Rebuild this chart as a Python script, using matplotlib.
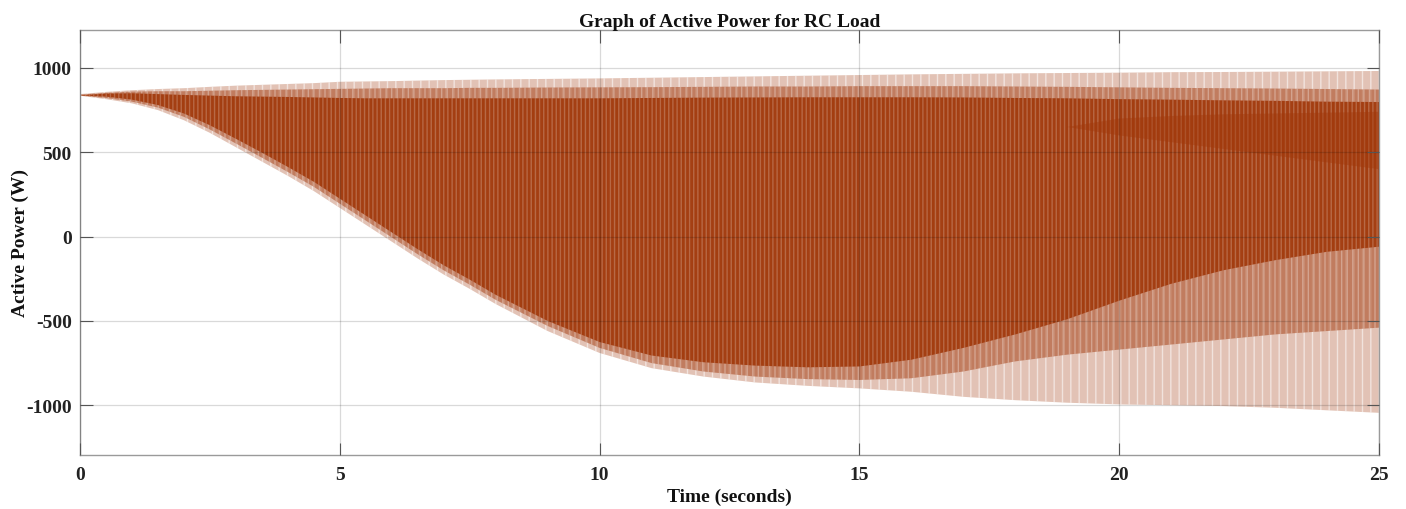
import numpy as np
import matplotlib
matplotlib.use("Agg")
import matplotlib.pyplot as plt

# ---- data (envelopes of the dense oscillating signal) ----
t = [0, 0.5, 1, 1.5, 2, 2.5, 3, 3.5, 4, 4.5, 5, 5.5, 6, 6.5, 7, 7.5, 8, 9, 10,
     11, 12, 13, 14, 15, 16, 17, 18, 19, 20, 21, 22, 23, 24, 25]
upper_outer = [845, 858, 868, 875, 880, 888, 895, 900, 905, 910, 918, 920, 922, 925,
               928, 930, 932, 935, 938, 942, 946, 950, 954, 958, 962, 965, 968, 970,
               972, 975, 976, 978, 980, 982]
upper_mid = [842, 852, 860, 862, 862, 865, 868, 870, 872, 874, 876, 878, 880, 880,
             880, 882, 882, 884, 885, 886, 888, 890, 890, 892, 892, 892, 890, 888,
             885, 882, 880, 878, 875, 872]
upper_core = [838, 848, 850, 845, 840, 836, 832, 830, 828, 825, 822, 820, 820, 820,
              820, 820, 820, 820, 820, 822, 824, 825, 826, 826, 826, 825, 822, 820,
              815, 812, 808, 805, 800, 798]
lower_outer = [835, 815, 790, 750, 690, 615, 530, 445, 360, 270, 170, 70, -30, -130,
               -225, -310, -400, -560, -690, -780, -830, -865, -885, -900, -920, -950,
               -970, -985, -995, -1000, -1005, -1015, -1030, -1045]
lower_mid = [836, 822, 800, 765, 710, 635, 552, 468, 383, 295, 195, 95, -5, -105,
             -200, -285, -375, -530, -660, -750, -800, -830, -845, -850, -840, -800,
             -740, -700, -670, -640, -610, -580, -560, -540]
lower_dense = [837, 830, 812, 780, 730, 660, 580, 498, 413, 325, 225, 125, 25, -75,
               -170, -255, -345, -500, -625, -705, -745, -765, -775, -770, -730, -660,
               -580, -490, -380, -280, -200, -140, -90, -60]
t_band = [19, 20, 21, 22, 23, 24, 25]
band_upper = [650, 700, 715, 725, 730, 735, 740]
band_lower = [650, 600, 560, 520, 480, 440, 400]

xticks = [0, 5, 10, 15, 20, 25]
yticks = [-1000, -500, 0, 500, 1000]

# ---- style ----
plt.rcParams['font.family'] = ['Liberation Serif', 'DejaVu Serif']
plt.rcParams['font.weight'] = 'bold'
plt.rcParams['hatch.linewidth'] = 1.0

base = (0.63, 0.22, 0.04)
W, H, DPI = 1406, 510, 100
fig = plt.figure(figsize=(W / DPI, H / DPI), dpi=DPI)
ax = fig.add_axes([80 / W, 1 - 456 / H, (1379 - 80) / W, (456 - 31) / H])

# faint spike tips
ax.fill_between(t, lower_outer, upper_outer, facecolor=base + (0.30,),
                edgecolor=(1, 1, 1, 0.55), hatch='||', linewidth=0)
# medium striped body
ax.fill_between(t, lower_mid, upper_mid, facecolor=base + (0.50,),
                edgecolor=(1, 1, 1, 0.30), hatch='|||', linewidth=0)
# dense dark body
ax.fill_between(t, lower_dense, upper_core, facecolor=base + (0.92,),
                edgecolor=(1, 1, 1, 0.22), hatch='||||', linewidth=0)
# darkest band near the top at the end
ax.fill_between(t_band, band_lower, band_upper, facecolor=base + (0.45,),
                edgecolor='none', linewidth=0)

ax.set_xlim(0, 25)
ax.set_ylim(-1295, 1225)
ax.set_xticks(xticks)
ax.set_yticks(yticks)
ax.set_xticklabels([str(v) for v in xticks], fontsize=14, fontweight='bold')
ax.set_yticklabels([str(v) for v in yticks], fontsize=14, fontweight='bold')
ax.tick_params(direction='in', length=9, width=0.8, color='#555555',
               top=True, right=True, labelcolor='#222222')
ax.tick_params(axis='x', pad=8)
ax.tick_params(axis='y', pad=6)
ax.grid(True, color='black', alpha=0.15, linewidth=0.9)
ax.set_axisbelow(False)
for s in ax.spines.values():
    s.set_color('#9a9a9a')
    s.set_linewidth(1.0)

ax.set_title('Graph of Active Power for RC Load', fontsize=14, fontweight='bold',
             pad=3, color='#111111')
ax.set_xlabel('Time (seconds)', fontsize=14, fontweight='bold', labelpad=3,
              color='#111111')
ax.set_ylabel('Active Power (W)', fontsize=14, fontweight='bold', labelpad=-2,
              color='#111111')

fig.savefig('out.png', dpi=DPI)
